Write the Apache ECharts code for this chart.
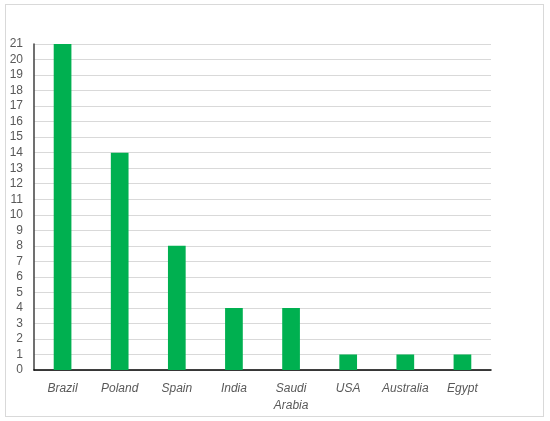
<!DOCTYPE html>
<html><head><meta charset="utf-8">
<script src="https://cdn.jsdelivr.net/npm/echarts@6/dist/echarts.min.js"></script>
<style>html,body{margin:0;padding:0;background:#fff;}
#frame{position:absolute;left:5px;top:4px;width:539px;height:413px;border:1px solid #d9d9d9;box-sizing:border-box;}
#c{position:absolute;left:0;top:0;width:550px;height:421px;}</style>
</head><body><div id="frame"></div><div id="c"></div>
<script>
const categories = ['Brazil','Poland','Spain','India','Saudi\nArabia','USA','Australia','Egypt'];
const values = [21,14,8,4,4,1,1,1];
const chart = echarts.init(document.getElementById('c'));
chart.setOption({
  animation:false,
  grid:{left:34,right:59,top:44,bottom:51,containLabel:false},
  xAxis:{type:'category',data:categories,
    axisLine:{lineStyle:{color:'#000',width:1.5}},axisTick:{show:false},
    axisLabel:{fontStyle:'italic',color:'#595959',fontSize:12,fontFamily:'Liberation Sans',margin:10,interval:0,lineHeight:17}},
  yAxis:{type:'value',min:0,max:21,interval:1,
    axisLine:{show:true,lineStyle:{color:'#404040',width:1.5}},axisTick:{show:false},
    splitLine:{lineStyle:{color:'#d9d9d9'}},
    axisLabel:{color:'#595959',fontSize:12,fontFamily:'Liberation Sans',margin:11}},
  series:[{type:'bar',data:values,barWidth:'31%',itemStyle:{color:'#00B050'}}]
});
</script></body></html>
